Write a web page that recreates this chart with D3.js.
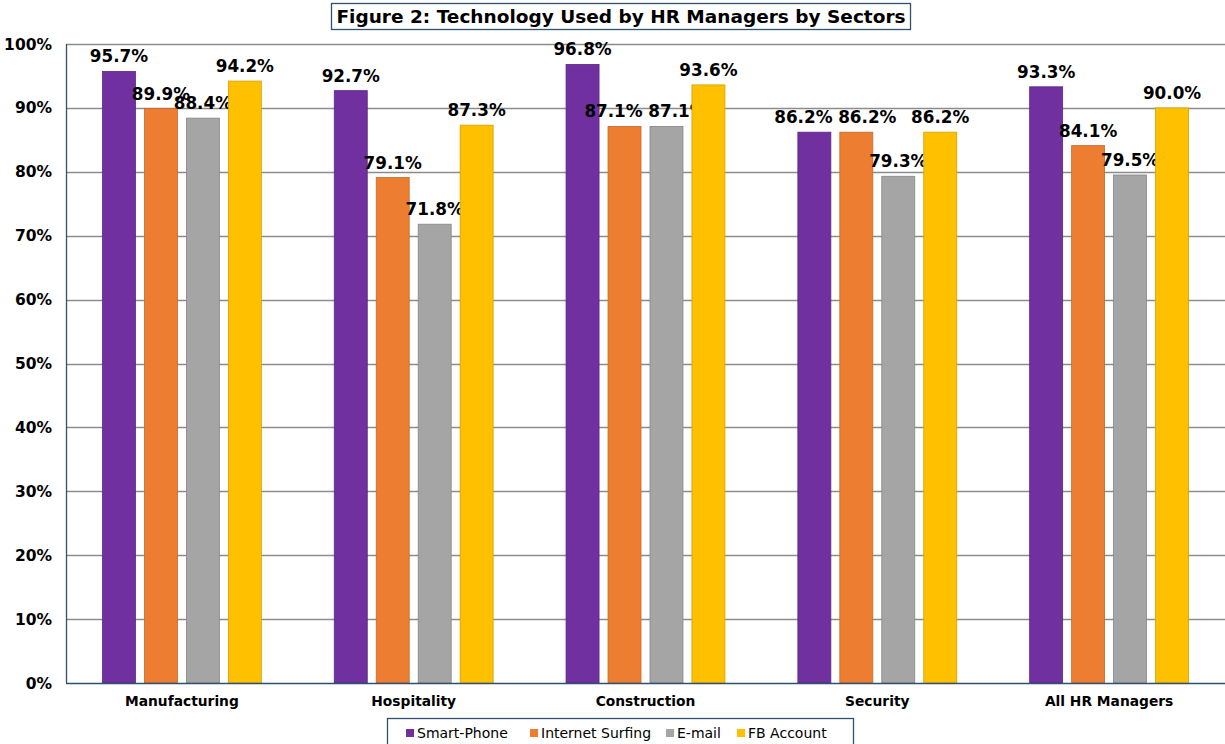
<!DOCTYPE html>
<html>
<head>
<meta charset="utf-8">
<script src="https://cdn.jsdelivr.net/npm/d3@7"></script>
<style>
  body { margin: 0; background: #fff; }
  svg { display: block; font-family: "DejaVu Sans", Verdana, sans-serif; }
</style>
</head>
<body>
<svg width="1225" height="744"></svg>
<script>
// Chart data
var sectors = ['Manufacturing', 'Hospitality', 'Construction', 'Security', 'All HR Managers'];
var seriesNames = ['Smart-Phone', 'Internet Surfing', 'E-mail', 'FB Account'];
var smartPhone = [95.7, 92.7, 96.8, 86.2, 93.3];
var internetSurfing = [89.9, 79.1, 87.1, 86.2, 84.1];
var email = [88.4, 71.8, 87.1, 79.3, 79.5];
var fbAccount = [94.2, 87.3, 93.6, 86.2, 90.0];
var yTicks = [0, 10, 20, 30, 40, 50, 60, 70, 80, 90, 100];

var seriesValues = [smartPhone, internetSurfing, email, fbAccount];
var colors = ['#7030A0', '#ED7D31', '#A5A5A5', '#FFC000'];
var strokes = ['#5a2683', '#c4692a', '#868686', '#d4a000'];

var svg = d3.select('svg');
var svgWidth = +svg.attr('width');

var padding = {t: 44, r: 0, b: 61, l: 66};
var chartBottom = 683;

// Scales
var x0 = d3.scaleBand()
    .domain(sectors)
    .range([padding.l, svgWidth - padding.r]);

var x1 = d3.scaleBand()
    .domain(seriesNames)
    .range([0, x0.bandwidth()])
    .paddingInner(0.214)
    .paddingOuter(0.869);

var y = d3.scaleLinear()
    .domain([0, 100])
    .range([chartBottom, padding.t]);

// Gridlines
svg.append('g')
    .selectAll('line')
    .data(yTicks.filter(function(d) { return d > 0; }))
    .enter().append('line')
    .attr('x1', padding.l)
    .attr('x2', svgWidth)
    .attr('y1', function(d) { return Math.round(y(d)) + 0.5; })
    .attr('y2', function(d) { return Math.round(y(d)) + 0.5; })
    .attr('stroke', '#8c8c8c')
    .attr('stroke-width', 1.3);

// Y axis labels
svg.append('g')
    .selectAll('text')
    .data(yTicks)
    .enter().append('text')
    .attr('x', 52)
    .attr('y', function(d) { return y(d) + 5.5; })
    .attr('text-anchor', 'end')
    .attr('font-size', '15.5px')
    .attr('font-weight', 'bold')
    .text(function(d) { return d + '%'; });

// Bars
var groups = svg.append('g')
    .selectAll('g')
    .data(sectors)
    .enter().append('g')
    .attr('transform', function(d) { return 'translate(' + x0(d) + ',0)'; });

var cells = groups.selectAll('g')
    .data(function(d, i) {
        return seriesNames.map(function(s, j) {
            var v = seriesValues[j][i];
            // nudge labels apart when a neighbour has the same height
            var shift = 0;
            if (j > 0 && seriesValues[j - 1][i] === v) shift += 11;
            if (j < seriesNames.length - 1 && seriesValues[j + 1][i] === v) shift -= 11;
            return {series: s, j: j, value: v, shift: shift};
        });
    })
    .enter().append('g');

cells.append('rect')
    .attr('x', function(d) { return x1(d.series); })
    .attr('width', x1.bandwidth())
    .attr('y', function(d) { return y(d.value); })
    .attr('height', function(d) { return chartBottom - y(d.value); })
    .attr('fill', function(d) { return colors[d.j]; })
    .attr('stroke', function(d) { return strokes[d.j]; })
    .attr('stroke-width', 0.8);

cells.append('text')
    .attr('x', function(d) { return x1(d.series) + x1.bandwidth() / 2 + d.shift; })
    .attr('y', function(d) { return y(d.value) - 9; })
    .attr('text-anchor', 'middle')
    .attr('font-size', '16.8px')
    .attr('font-weight', 'bold')
    .text(function(d) { return d.value.toFixed(1) + '%'; });

// Axis lines
svg.append('line')
    .attr('x1', padding.l + 0.5).attr('x2', padding.l + 0.5)
    .attr('y1', padding.t).attr('y2', chartBottom)
    .attr('stroke', '#2F5070').attr('stroke-width', 1.3);
svg.append('line')
    .attr('x1', padding.l).attr('x2', svgWidth)
    .attr('y1', chartBottom + 0.5).attr('y2', chartBottom + 0.5)
    .attr('stroke', '#2F5070').attr('stroke-width', 1.5);

// X labels
svg.append('g')
    .selectAll('text')
    .data(sectors)
    .enter().append('text')
    .attr('x', function(d) { return x0(d) + x0.bandwidth() / 2; })
    .attr('y', 706)
    .attr('text-anchor', 'middle')
    .attr('font-size', '13.8px')
    .attr('font-weight', 'bold')
    .text(function(d) { return d; });

// Title
svg.append('rect')
    .attr('x', 331.5).attr('y', 3.5)
    .attr('width', 579).attr('height', 26)
    .attr('fill', '#fff')
    .attr('stroke', '#2F5070').attr('stroke-width', 1.3);
svg.append('text')
    .attr('x', 621).attr('y', 23)
    .attr('text-anchor', 'middle')
    .attr('font-size', '18.5px')
    .attr('font-weight', 'bold')
    .text('Figure 2: Technology Used by HR Managers by Sectors');

// Legend
svg.append('rect')
    .attr('x', 387.5).attr('y', 718.5)
    .attr('width', 466).attr('height', 40)
    .attr('fill', '#fff')
    .attr('stroke', '#2F5070').attr('stroke-width', 1.3);

var legendX = [406, 530, 666, 737];
var legend = svg.append('g')
    .selectAll('g')
    .data(seriesNames)
    .enter().append('g')
    .attr('transform', function(d, i) { return 'translate(' + legendX[i] + ',733)'; });
legend.append('rect')
    .attr('x', 0).attr('y', -4)
    .attr('width', 8).attr('height', 8)
    .attr('fill', function(d, i) { return colors[i]; });
legend.append('text')
    .attr('x', 11).attr('y', 5)
    .attr('font-size', '14px')
    .text(function(d) { return d; });
</script>
</body>
</html>
